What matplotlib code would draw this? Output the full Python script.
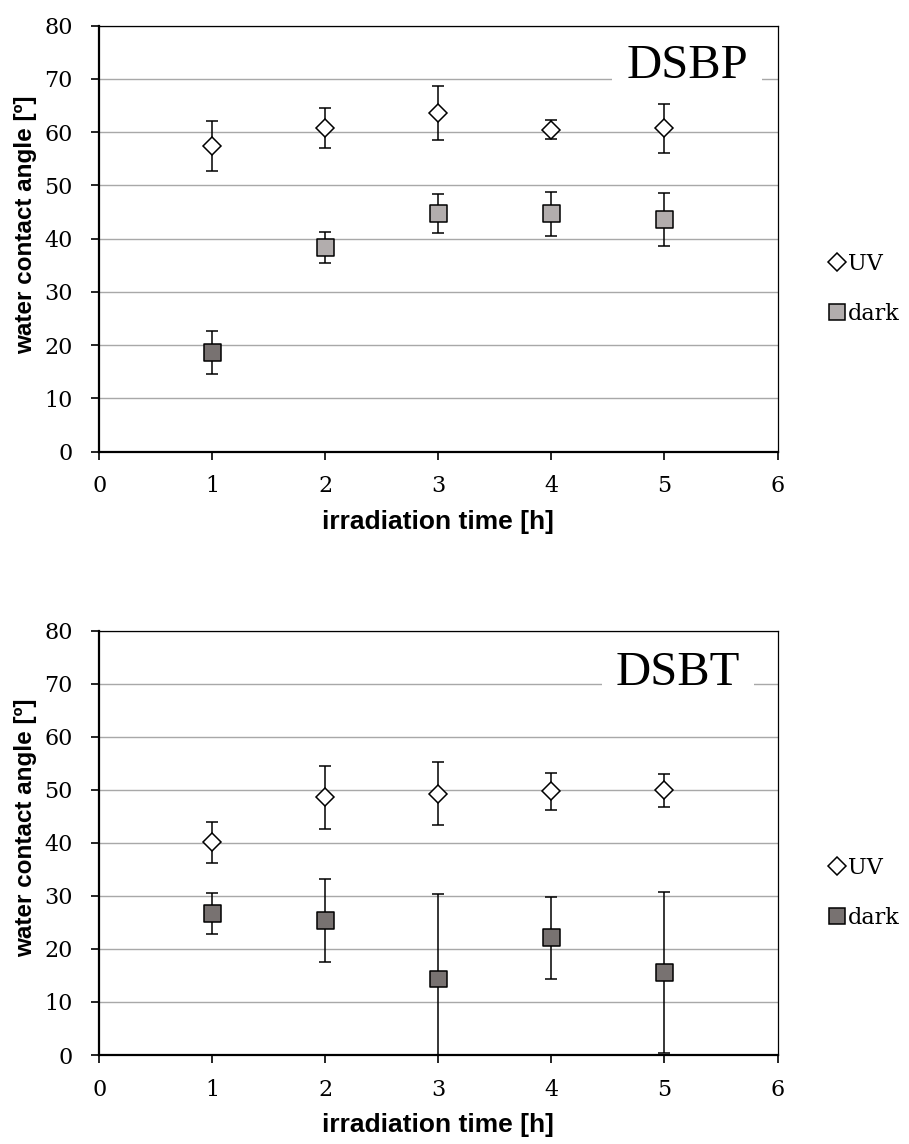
import matplotlib
matplotlib.use("Agg")
import matplotlib.pyplot as plt
from matplotlib.lines import Line2D

# ---- data ----
time_h = [1, 2, 3, 4, 5]

dsbp_uv = [57.4, 60.8, 63.6, 60.5, 60.7]
dsbp_uv_err = [4.7, 3.7, 5.0, 1.7, 4.6]
dsbp_dark = [18.6, 38.3, 44.7, 44.7, 43.6]
dsbp_dark_err = [4.0, 2.9, 3.7, 4.1, 4.9]

dsbt_uv = [40.1, 48.6, 49.3, 49.7, 49.9]
dsbt_uv_err = [3.9, 5.9, 5.9, 3.5, 3.1]
dsbt_dark = [26.7, 25.3, 14.3, 22.1, 15.5]
dsbt_dark_err = [3.9, 7.8, 16.1, 7.7, 15.2]

x_ticks = [0, 1, 2, 3, 4, 5, 6]
y_ticks = [0, 10, 20, 30, 40, 50, 60, 70, 80]
titles = ["DSBP", "DSBT"]

LIGHT = "#B2ADAD"
DARK = "#787271"
dsbp_dark_colors = [DARK, LIGHT, LIGHT, LIGHT, LIGHT]
dsbt_dark_colors = [DARK, DARK, DARK, DARK, DARK]

SERIF = "DejaVu Serif"
SANS = "Liberation Sans"

fig = plt.figure(figsize=(9.09, 11.44), dpi=100)
W, H = 909, 1144

def make_ax(left_px, right_px, top_px, bottom_px):
    return fig.add_axes([left_px / W, 1 - bottom_px / H,
                         (right_px - left_px) / W, (bottom_px - top_px) / H])

ax1 = make_ax(99.3, 777.5, 25.7, 451.7)
ax2 = make_ax(99.3, 777.5, 630.7, 1055.0)

panels = [
    (ax1, dsbp_uv, dsbp_uv_err, dsbp_dark, dsbp_dark_err, dsbp_dark_colors, LIGHT,
     titles[0], (5.2, 72.4), 0.532),
    (ax2, dsbt_uv, dsbt_uv_err, dsbt_dark, dsbt_dark_err, dsbt_dark_colors, DARK,
     titles[1], (5.12, 72.0), 0.535),
]

for ax, uv, uv_e, dk, dk_e, dk_cols, leg_col, title, tpos, ylab_y in panels:
    ax.set_xlim(0, 6)
    ax.set_ylim(0, 80)
    ax.set_xticks(x_ticks)
    ax.set_yticks(y_ticks)
    ax.yaxis.grid(True, color="#A8A8A8", linewidth=1.0)
    ax.set_axisbelow(True)
    for s in ["left", "bottom"]:
        ax.spines[s].set_linewidth(1.6)
    for s in ["top", "right"]:
        ax.spines[s].set_linewidth(0.9)
    ax.tick_params(axis="both", direction="out", length=6, width=1.2,
                   labelsize=16, pad=11)
    ax.tick_params(axis="y", pad=13)
    ax.tick_params(axis="x", top=False)
    ax.tick_params(axis="y", right=False)
    for lab in ax.get_xticklabels() + ax.get_yticklabels():
        lab.set_fontfamily(SERIF)

    # error bars
    ax.errorbar(time_h, uv, yerr=uv_e, fmt="none", ecolor="black",
                elinewidth=1.1, capsize=4, capthick=1.1, zorder=3)
    ax.errorbar(time_h, dk, yerr=dk_e, fmt="none", ecolor="black",
                elinewidth=1.1, capsize=4, capthick=1.1, zorder=3)
    # markers
    ax.plot(time_h, uv, linestyle="none", marker="D", markersize=9.2,
            markerfacecolor="white", markeredgecolor="black",
            markeredgewidth=1.1, zorder=4)
    ax.scatter(time_h, dk, marker="s", s=12.0 ** 2, c=dk_cols,
               edgecolors="black", linewidths=1.1, zorder=4)

    ax.set_ylabel("water contact angle [º]", fontfamily=SANS,
                  fontweight="bold", fontsize=17.5, labelpad=5)
    ax.yaxis.label.set_y(ylab_y)
    ax.set_xlabel("irradiation time [h]", fontfamily=SANS,
                  fontweight="bold", fontsize=19, labelpad=9)

    ax.text(tpos[0], tpos[1], title, fontfamily="Liberation Serif", fontsize=35,
            ha="center", va="center", zorder=2.2,
            bbox=dict(facecolor="white", edgecolor="none", pad=10))

    handles = [
        Line2D([], [], linestyle="none", marker="D", markersize=9.2,
               markerfacecolor="white", markeredgecolor="black",
               markeredgewidth=1.1),
        Line2D([], [], linestyle="none", marker="s", markersize=12.0,
               markerfacecolor=leg_col, markeredgecolor="black",
               markeredgewidth=1.1),
    ]
    ax.legend(handles, ["UV", "dark"], loc="center left",
              bbox_to_anchor=(1.06, 0.382), frameon=False,
              prop={"family": SERIF, "size": 16}, handlelength=0.9,
              handletextpad=0.05, labelspacing=1.25, borderaxespad=0)

fig.savefig("out.png", dpi=100)
